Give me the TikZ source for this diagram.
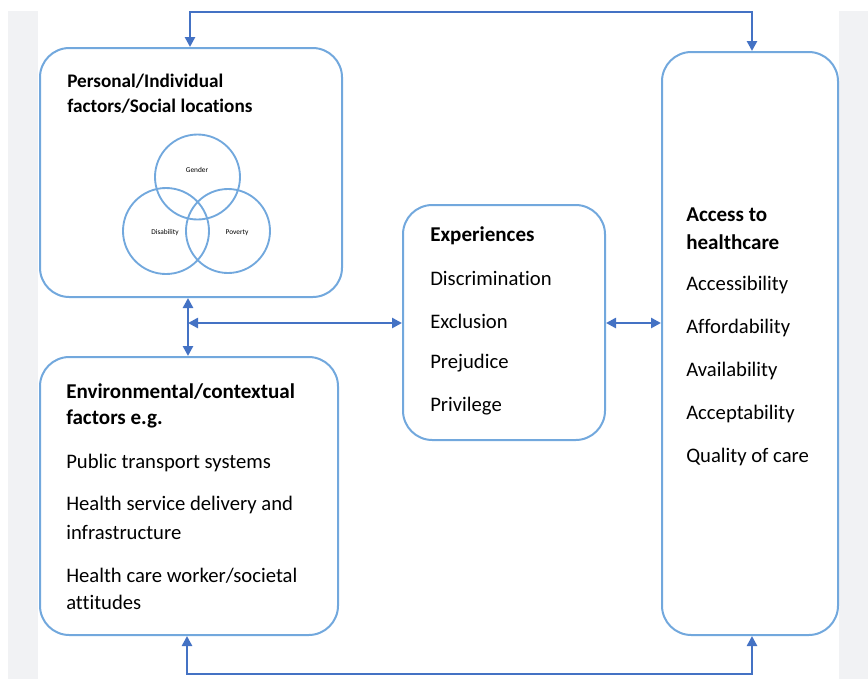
\documentclass[tikz,border=0pt]{standalone}
\usepackage{fontspec}
\setmainfont[Ligatures=NoCommon]{Carlito}
\usetikzlibrary{arrows.meta}
\definecolor{boxblue}{HTML}{72A8DD}
\definecolor{arrblue}{HTML}{4472C4}
\definecolor{bggray}{HTML}{F1F2F4}
\tikzset{
  box/.style={draw=boxblue, line width=1.5pt, rounded corners=22pt, inner sep=0pt},
  venn/.style={draw=boxblue, line width=1.4pt, circle, inner sep=0pt},
  conn/.style={draw=arrblue, line width=2.1pt, line join=miter, {Triangle[length=7.5pt,width=7.5pt]}-{Triangle[length=7.5pt,width=7.5pt]}},
  txt/.style={anchor=west, inner sep=0pt, font=\fontsize{15.5}{18}\selectfont},
  ttl/.style={txt, font=\fontsize{15.8}{18}\selectfont\bfseries},
  small/.style={inner sep=0pt, font=\fontsize{5.5}{6}\selectfont},
}
\begin{document}
\begin{tikzpicture}[x=0.75pt,y=-0.75pt]
\useasboundingbox (0,0) rectangle (868,679);
\fill[bggray] (8,11) rectangle (38,679);
\fill[bggray] (839,11) rectangle (868,679);

% boxes
\node[box, minimum width=226.5pt, minimum height=186.75pt] (personal) at (191,172.5) {};
\node[box, minimum width=223.5pt, minimum height=208.5pt] (env) at (189,496) {};
\node[box, minimum width=151.5pt, minimum height=176.25pt] (exp) at (504,322.5) {};
\node[box, minimum width=132pt, minimum height=437.25pt] (access) at (750,343.5) {};

% Venn
\node[venn, minimum size=63.75pt] (cg) at (197.5,177) {};
\node[venn, minimum size=64.5pt] (cd) at (166,231) {};
\node[venn, minimum size=63pt] (cp) at (228,231) {};
\node[small] (lg) at (197,170) {Gender};
\node[small] (ld) at (165,233) {Disability};
\node[small] (lp) at (237,233) {Poverty};

% texts box 1
\node[ttl, font=\fontsize{14.4}{17}\selectfont\bfseries] (p1) at (67,81) {Personal/Individual};
\node[ttl, font=\fontsize{14.4}{17}\selectfont\bfseries] (p2) at (67,106) {factors/Social locations};

% texts box 2
\node[ttl] (e1) at (66,392) {Environmental/contextual};
\node[ttl] (e2) at (66,419) {factors e.g.};
\node[txt] (e3) at (66,463) {Public transport systems};
\node[txt] (e4) at (66,505) {Health service delivery and};
\node[txt] (e5) at (66,532) {infrastructure};
\node[txt] (e6) at (66,576) {Health care worker/societal};
\node[txt] (e7) at (66,602) {attitudes};

% texts box 3
\node[ttl] (x1) at (430,236) {Experiences};
\node[txt] (x2) at (430,278) {Discrimination};
\node[txt] (x3) at (430,321) {Exclusion};
\node[txt] (x4) at (430,363) {Prejudice};
\node[txt] (x5) at (430,406) {Privilege};

% texts box 4
\node[ttl] (a1) at (686,215) {Access to};
\node[ttl] (a2) at (686,242) {healthcare};
\node[txt] (a3) at (686,285) {Accessibility};
\node[txt] (a4) at (686,328) {Affordability};
\node[txt] (a5) at (686,371) {Availability};
\node[txt] (a6) at (686,414) {Acceptability};
\node[txt] (a7) at (686,457) {Quality of care};

% connectors
\coordinate (t1) at (190,12);
\coordinate (t2) at (752,12);
\coordinate (b1) at (187,674);
\coordinate (b2) at (752,674);
\coordinate (vx) at (188,323);
\draw[conn] (t1 |- personal.north) -- (t1) -- (t2) -- (t2 |- access.north);
\draw[conn] (b1 |- env.south) -- (b1) -- (b2) -- (b2 |- access.south);
\draw[conn] (vx |- personal.south) -- (vx |- env.north);
\draw[conn] (vx) -- (exp.west |- vx);
\draw[conn] (exp.east |- vx) -- (access.west |- vx);
\end{tikzpicture}
\end{document}
